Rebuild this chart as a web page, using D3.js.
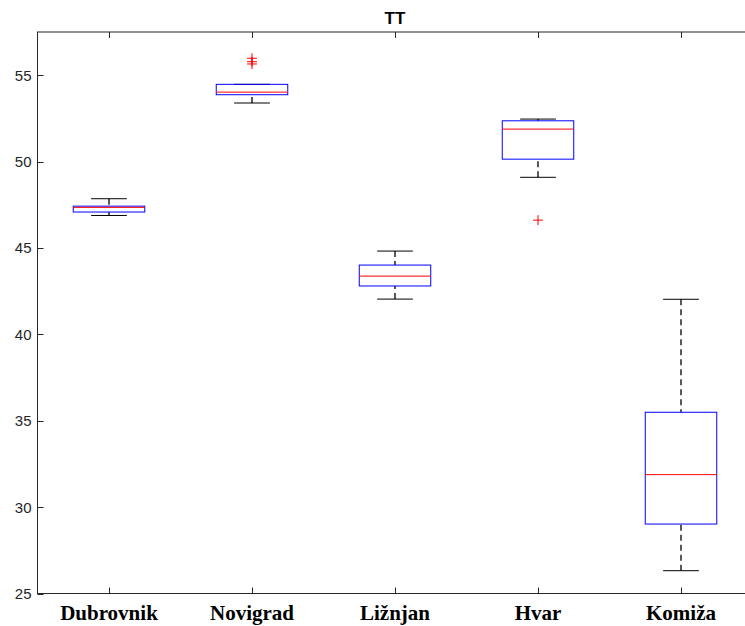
<!DOCTYPE html>
<html>
<head>
<meta charset="utf-8">
<script src="https://cdn.jsdelivr.net/npm/d3@7"></script>
<style>
  html, body { margin: 0; padding: 0; background: #fff; }
  svg { display: block; }
</style>
</head>
<body>
<svg id="chart" width="745" height="626"></svg>
<script>
// Box plot summary per station
const categories  = ["Dubrovnik", "Novigrad", "Ližnjan", "Hvar", "Komiža"];
const whiskerLow  = [46.88, 53.39, 42.04, 49.09, 26.32];
const q1          = [47.08, 53.87, 42.80, 50.14, 29.02];
const median      = [47.35, 54.02, 43.37, 51.88, 31.88];
const q3          = [47.42, 54.47, 44.01, 52.36, 35.49];
const whiskerHigh = [47.85, 54.47, 44.82, 52.46, 42.03];
const outliers    = [[], [55.98, 55.78, 55.65], [], [46.61], []];
const yTicks      = [25, 30, 35, 40, 45, 50, 55];
const chartTitle  = "TT";

(function () {
  const svg = d3.select("#chart");
  const plotLeft = 37.5, plotTop = 32, plotBottom = 593.5, plotRight = 752.5;

  const x = d3.scaleLinear().domain([0.5, 5.5]).range([plotLeft, plotRight]);
  const y = d3.scaleLinear().domain([25, 57.5]).range([plotBottom, plotTop]);

  const axisColor = "#262626";
  const boxHalf = 0.25, capHalf = 0.125;

  // Frame (box on) with inward ticks
  const g = svg.append("g");
  g.append("rect")
    .attr("x", plotLeft).attr("y", plotTop)
    .attr("width", plotRight - plotLeft).attr("height", plotBottom - plotTop)
    .attr("fill", "none").attr("stroke", axisColor).attr("stroke-width", 1);

  const tickLen = 6;
  const cats = categories.map((c, i) => i + 1);

  // x ticks on bottom and top
  g.selectAll(".xtb").data(cats).enter().append("line")
    .attr("x1", d => Math.round(x(d)) + 0.5).attr("x2", d => Math.round(x(d)) + 0.5)
    .attr("y1", plotBottom).attr("y2", plotBottom - tickLen)
    .attr("stroke", axisColor);
  g.selectAll(".xtt").data(cats).enter().append("line")
    .attr("x1", d => Math.round(x(d)) + 0.5).attr("x2", d => Math.round(x(d)) + 0.5)
    .attr("y1", plotTop).attr("y2", plotTop + tickLen)
    .attr("stroke", axisColor);

  // y ticks on left
  g.selectAll(".yt").data(yTicks).enter().append("line")
    .attr("x1", plotLeft).attr("x2", plotLeft + tickLen)
    .attr("y1", d => Math.round(y(d)) + 0.5).attr("y2", d => Math.round(y(d)) + 0.5)
    .attr("stroke", axisColor);

  g.selectAll(".ytl").data(yTicks).enter().append("text")
    .attr("x", plotLeft - 6).attr("y", d => y(d))
    .attr("dy", "0.36em")
    .attr("text-anchor", "end")
    .attr("font-family", "Liberation Sans, Arial, sans-serif")
    .attr("font-size", 15)
    .attr("fill", axisColor)
    .text(d => d);

  // category labels
  g.selectAll(".xtl").data(categories).enter().append("text")
    .attr("x", (d, i) => x(i + 1)).attr("y", 620)
    .attr("text-anchor", "middle")
    .attr("font-family", "Liberation Serif, 'Times New Roman', serif")
    .attr("font-weight", "bold")
    .attr("font-size", 21)
    .attr("fill", "#000")
    .text(d => d);

  // title
  svg.append("text")
    .attr("x", (plotLeft + plotRight) / 2).attr("y", 24)
    .attr("text-anchor", "middle")
    .attr("font-family", "Liberation Sans, Arial, sans-serif")
    .attr("font-weight", "bold")
    .attr("font-size", 17)
    .attr("fill", "#000")
    .text(chartTitle);

  // boxes
  const plot = svg.append("g");
  categories.forEach((c, i) => {
    const cx = i + 1;
    const grp = plot.append("g");
    // whiskers (dashed)
    grp.append("line")
      .attr("x1", x(cx)).attr("x2", x(cx))
      .attr("y1", y(whiskerHigh[i])).attr("y2", y(q3[i]))
      .attr("stroke", "#000").attr("stroke-width", 1.3).attr("stroke-dasharray", "6,4");
    grp.append("line")
      .attr("x1", x(cx)).attr("x2", x(cx))
      .attr("y1", y(whiskerLow[i])).attr("y2", y(q1[i]))
      .attr("stroke", "#000").attr("stroke-width", 1.3).attr("stroke-dasharray", "6,4");
    // caps
    [whiskerLow[i], whiskerHigh[i]].forEach(v => {
      grp.append("line")
        .attr("x1", x(cx - capHalf)).attr("x2", x(cx + capHalf))
        .attr("y1", y(v)).attr("y2", y(v))
        .attr("stroke", "#000").attr("stroke-width", 1);
    });
    // box
    grp.append("rect")
      .attr("x", x(cx - boxHalf)).attr("y", y(q3[i]))
      .attr("width", x(cx + boxHalf) - x(cx - boxHalf))
      .attr("height", y(q1[i]) - y(q3[i]))
      .attr("fill", "none").attr("stroke", "#0000ff").attr("stroke-width", 1);
    // median
    grp.append("line")
      .attr("x1", x(cx - boxHalf)).attr("x2", x(cx + boxHalf))
      .attr("y1", y(median[i])).attr("y2", y(median[i]))
      .attr("stroke", "#ff0000").attr("stroke-width", 1);
    // outliers
    outliers[i].forEach(v => {
      const px = x(cx), py = y(v), r = 5;
      grp.append("path")
        .attr("d", `M${px - r},${py}H${px + r}M${px},${py - r}V${py + r}`)
        .attr("stroke", "#ff0000").attr("stroke-width", 1).attr("fill", "none");
    });
  });
})();
</script>
</body>
</html>
